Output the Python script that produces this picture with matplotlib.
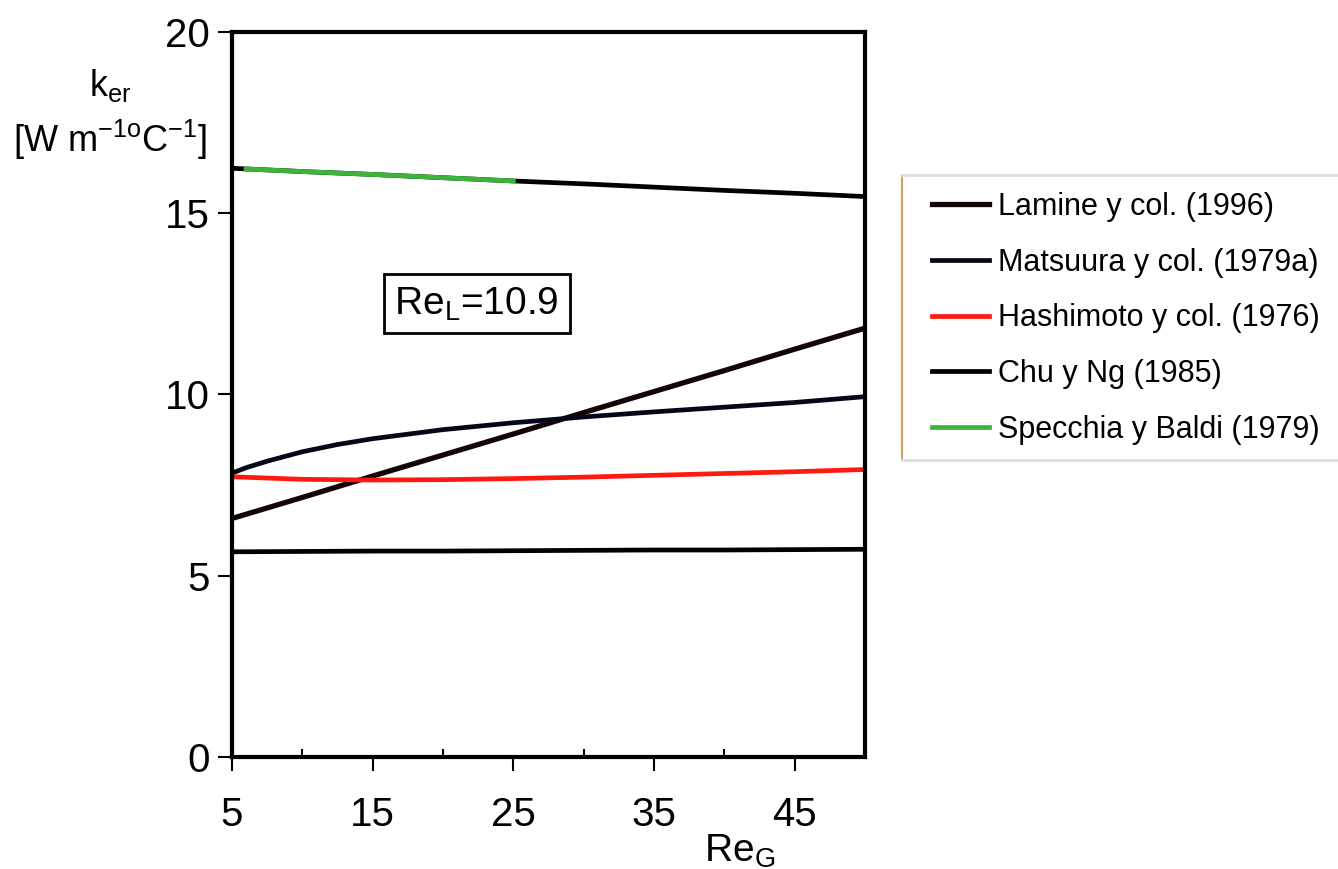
import matplotlib.pyplot as plt
from matplotlib.lines import Line2D

plt.rcParams['font.family'] = ['Liberation Sans', 'DejaVu Sans']
plt.rcParams['mathtext.fontset'] = 'custom'
plt.rcParams['mathtext.rm'] = 'Liberation Sans'
plt.rcParams['mathtext.it'] = 'Liberation Sans'

# Re_G values where each correlation is evaluated
re_g = [5, 10, 15, 20, 25, 30, 35, 40, 45, 50]

k_lamine = [6.58, 7.16, 7.75, 8.33, 8.91, 9.50, 10.08, 10.66, 11.25, 11.83]
k_hashimoto = [7.73, 7.66, 7.64, 7.65, 7.68, 7.72, 7.77, 7.82, 7.87, 7.93]
k_chu = [5.66, 5.67, 5.68, 5.68, 5.69, 5.70, 5.71, 5.71, 5.72, 5.73]
k_top = [16.24, 16.15, 16.07, 15.98, 15.89, 15.81, 15.72, 15.63, 15.55, 15.46]

re_matsuura = [5, 6, 7.5, 10, 12.5, 15, 20, 25, 30, 35, 40, 45, 50]
k_matsuura = [7.83, 7.98, 8.16, 8.42, 8.62, 8.78, 9.03, 9.22, 9.38, 9.52, 9.65, 9.78, 9.94]

re_specchia = [6, 10, 15, 20, 25]
k_specchia = [16.22, 16.15, 16.07, 15.98, 15.89]

fig = plt.figure(figsize=(13.38, 8.69), dpi=100)
ax = fig.add_axes([0.1734, 0.1289, 0.4731, 0.8343])

lw = 3.4
ax.plot(re_g, k_top, color='black', lw=lw)
ax.plot(re_g, k_lamine, color='#140404', lw=lw + 0.4, label='Lamine y col. (1996)')
ax.plot(re_matsuura, k_matsuura, color='#04061a', lw=lw, label='Matsuura y col. (1979a)')
ax.plot(re_g, k_hashimoto, color='#ff1a10', lw=lw, label='Hashimoto y col. (1976)')
ax.plot(re_g, k_chu, color='black', lw=lw, label='Chu y Ng (1985)')
ax.plot(re_specchia, k_specchia, color='#3cb43c', lw=lw, label='Specchia y Baldi (1979)')

ax.set_xlim(5, 50)
ax.set_ylim(0, 20)
ax.set_xticks([5, 15, 25, 35, 45])
ax.set_xticks([10, 20, 30, 40], minor=True)
ax.set_yticks([0, 5, 10, 15, 20])
ax.tick_params(axis='both', which='major', labelsize=29, length=10, width=1.5,
               direction='out', pad=6)
ax.tick_params(axis='x', which='minor', length=6, width=1.5, direction='in')
ax.tick_params(axis='x', which='major', pad=18)
for s in ax.spines.values():
    s.set_linewidth(3)

ax.text(22.4, 12.5, r'Re$_\mathregular{L}$=10.9', fontsize=28, ha='center', va='center',
        bbox=dict(boxstyle='square,pad=0.28', fc='white', ec='black', lw=2))

fig.text(110 / 1338, 1 - 85 / 869, r'k$_\mathregular{er}$', fontsize=26, ha='center', va='center')
fig.text(110 / 1338, 1 - 140 / 869, r'[W m$^\mathregular{-1o}$C$^\mathregular{-1}$]',
         fontsize=26, ha='center', va='center')
fig.text(740 / 1338, 1 - 851 / 869, r'Re$_\mathregular{G}$', fontsize=28, ha='center', va='center')

fig.legend(loc='upper left', bbox_to_anchor=(932 / 1338, 1 - 192 / 869),
           fontsize=22, frameon=False, handlelength=1.85, handletextpad=0.3,
           labelspacing=0.84, borderpad=0, borderaxespad=0)

# frame around the legend
x0, x1 = 902 / 1338, 1.0
y0, y1 = 1 - 460 / 869, 1 - 175 / 869
fig.add_artist(Line2D([x0, x0], [y0, y1], color='#d2a060', lw=1.5))
fig.add_artist(Line2D([x0, x1], [y1, y1], color='#dddddd', lw=2))
fig.add_artist(Line2D([x0, x1], [y0, y0], color='#dddddd', lw=2))

fig.savefig('out.png', dpi=100)
